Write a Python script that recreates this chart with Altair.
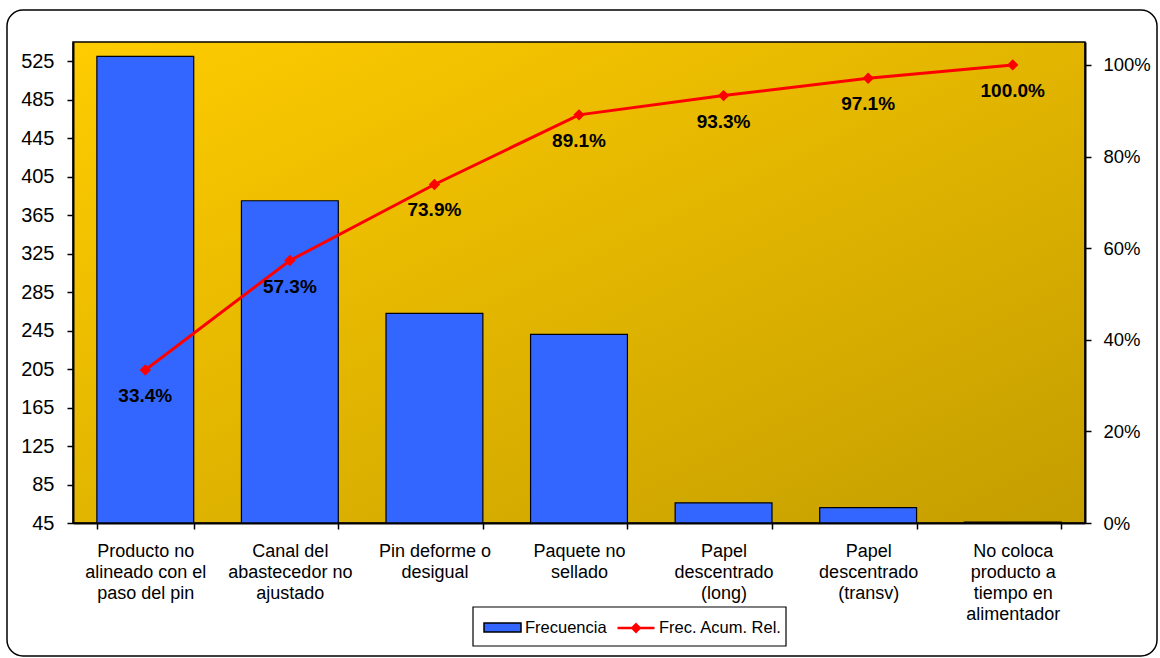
import altair as alt
import pandas as pd

# Pareto de defectos: frecuencia por causa y frecuencia acumulada relativa
causas = [
    "Producto no|alineado con el|paso del pin",
    "Canal del|abastecedor no|ajustado",
    "Pin deforme o|desigual",
    "Paquete no|sellado",
    "Papel|descentrado|(long)",
    "Papel|descentrado|(transv)",
    "No coloca|producto a|tiempo en|alimentador",
]
frecuencia = [530, 380, 263, 241, 66, 61, 46]
acumulado = [0.334, 0.573, 0.739, 0.891, 0.933, 0.971, 1.000]

ticks_frec = list(range(45, 526, 40))
ticks_pct = [0, 0.2, 0.4, 0.6, 0.8, 1.0]

W, H = 1012, 481
FONT = "Liberation Sans"

df = pd.DataFrame({
    "causa": causas,
    "frecuencia": frecuencia,
    "acumulado": acumulado,
    "serie_barra": ["Frecuencia"] * len(causas),
    "serie_linea": ["Frec. Acum. Rel."] * len(causas),
})
uno = pd.DataFrame({"k": [0]})

x_enc = alt.X(
    "causa:N",
    sort=causas,
    scale=alt.Scale(paddingInner=0.33, paddingOuter=0.165),
    axis=alt.Axis(
        title=None,
        labelAngle=0,
        labelExpr="split(datum.label, '|')",
        labelFontSize=18,
        labelLineHeight=21,
        labelBaseline="top",
        labelPadding=13,
        labelColor="black",
        labelFont=FONT,
        tickBand="extent",
        tickSize=6,
        tickColor="black",
        tickWidth=1.5,
        domainColor="black",
        domainWidth=2,
        labelLimit=300,
        zindex=1,
    ),
)

# Marco exterior redondeado del gráfico
marco = alt.Chart(uno).mark_rect(
    fill="transparent", stroke="black", strokeWidth=1.5, cornerRadius=16
).encode(
    x=alt.value(-66), x2=alt.value(1084), y=alt.value(-32), y2=alt.value(614)
)

# Fondo degradado del área de trazado
fondo = alt.Chart(uno).mark_rect(
    fill=alt.Gradient(
        gradient="linear",
        stops=[
            alt.GradientStop(offset=0, color="#FFCC00"),
            alt.GradientStop(offset=1, color="#C49E00"),
        ],
        x1=0, y1=0, x2=1, y2=1,
    ),
    stroke="black",
    strokeWidth=1.5,
).encode(x=alt.value(0), x2=alt.value(W), y=alt.value(0), y2=alt.value(H))

# Recuadro de la leyenda
caja_leyenda = alt.Chart(uno).mark_rect(
    fill="white", stroke="black", strokeWidth=1.2
).encode(x=alt.value(400), x2=alt.value(713), y=alt.value(565), y2=alt.value(604))

barras = alt.Chart(df).mark_bar(stroke="black", strokeWidth=1.2).encode(
    x=x_enc,
    y=alt.Y(
        "frecuencia:Q",
        scale=alt.Scale(domain=[45, 545], nice=False, zero=False),
        axis=alt.Axis(
            title=None,
            values=ticks_frec,
            labelFontSize=20,
            labelFont=FONT,
            labelColor="black",
            labelPadding=13,
            tickSize=6,
            tickColor="black",
            tickWidth=1.5,
            domainColor="black",
            domainWidth=2,
            zindex=1,
        ),
    ),
    y2=alt.datum(45),
    fill=alt.Fill(
        "serie_barra:N",
        scale=alt.Scale(domain=["Frecuencia"], range=["#3366FF"]),
        legend=alt.Legend(
            title=None,
            orient="none",
            legendX=410,
            legendY=566,
            padding=0,
            symbolType="M-1,-0.24H1V0.24H-1Z",
            symbolSize=1369,
            symbolStrokeColor="black",
            symbolStrokeWidth=1.5,
            labelFontSize=16.5,
            labelFont=FONT,
            labelColor="black",
            labelOffset=3,
        ),
    ),
)

y_pct = alt.Y(
    "acumulado:Q",
    scale=alt.Scale(domain=[0, 1.05], nice=False),
    axis=alt.Axis(
        title=None,
        orient="right",
        values=ticks_pct,
        format=".0%",
        labelFontSize=18.5,
        labelFont=FONT,
        labelColor="black",
        labelPadding=12,
        tickSize=6,
        tickColor="black",
        tickWidth=1.5,
        domainColor="black",
        domainWidth=2,
        zindex=1,
    ),
)

linea = alt.Chart(df).mark_line(strokeWidth=3).encode(
    x=alt.X("causa:N", sort=causas),
    y=y_pct,
    stroke=alt.Stroke(
        "serie_linea:N",
        scale=alt.Scale(domain=["Frec. Acum. Rel."], range=["#FF0000"]),
        legend=alt.Legend(
            title=None,
            orient="none",
            legendX=543,
            legendY=566,
            padding=0,
            symbolType="M-1,0H1M0,-0.2L0.2,0L0,0.2L-0.2,0Z",
            symbolSize=1369,
            symbolFillColor="#FF0000",
            symbolStrokeWidth=2.5,
            labelFontSize=16.5,
            labelFont=FONT,
            labelColor="black",
            labelOffset=3,
        ),
    ),
)

puntos = alt.Chart(df).mark_point(
    shape="diamond", filled=True, color="#FF0000", size=130, opacity=1
).encode(x=alt.X("causa:N", sort=causas), y=y_pct)

etiquetas = alt.Chart(df).mark_text(
    fontSize=19, fontWeight="bold", font=FONT, color="black", dy=26, baseline="middle"
).encode(
    x=alt.X("causa:N", sort=causas),
    y=y_pct,
    text=alt.Text("acumulado:Q", format=".1%"),
)

serie_pct = alt.layer(linea, puntos, etiquetas)

chart = (
    alt.layer(marco, fondo, caja_leyenda, barras, serie_pct)
    .resolve_scale(y="independent")
    .properties(
        width=W,
        height=H,
        padding={"left": 73, "top": 42, "right": 75, "bottom": 135},
        autosize=alt.AutoSizeParams(type="none"),
        background="white",
    )
    .configure_view(stroke=None)
    .configure_axis(grid=False)
)

chart.save("out.html", embed_options={"renderer": "svg", "actions": False})
